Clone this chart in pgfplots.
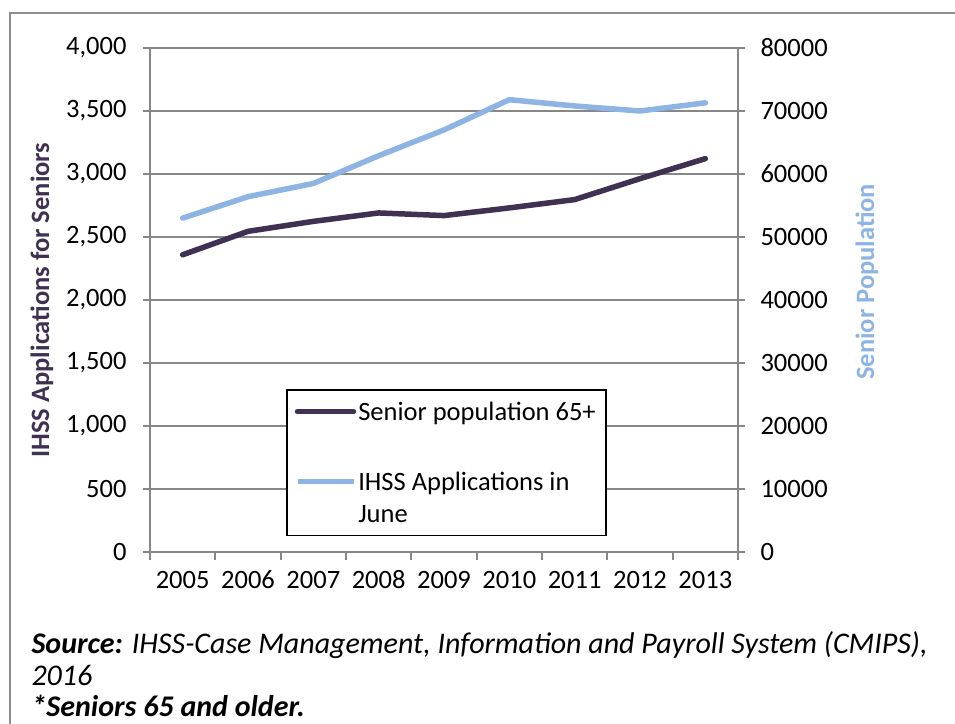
\documentclass[border=0pt]{standalone}
\usepackage{fontspec}
\setmainfont{Carlito}
\usepackage{pgfplots}
\usepackage{pgfplotstable}
\pgfplotsset{compat=1.18}

\definecolor{darkpurple}{HTML}{403152}
\definecolor{lightblue}{HTML}{8DB4E2}
\definecolor{gridgray}{HTML}{878787}

% idx = category position, seniors on left axis, apps on right axis
\pgfplotstableread{
idx year seniors apps
0 2005 2359 53000
1 2006 2545 56400
2 2007 2624 58500
3 2008 2691 62900
4 2009 2670 67000
5 2010 2731 71800
6 2011 2797 70800
7 2012 2963 70000
8 2013 3122 71300
}\datatable

\newcommand{\chartfont}{\fontsize{26.5}{32}\selectfont}

\pgfplotsset{
  /pgf/number format/assume math mode=true,
  common/.style={
    at={(150pt,-552pt)}, anchor=south west,
    scale only axis, width=588pt, height=504pt,
    xmin=-0.5, xmax=8.5,
    axis line style={gridgray, line width=1.8pt},
    tick style={gridgray, line width=1.8pt},
    tick align=outside, major tick length=7pt, minor tick length=8pt,
    tick label style={font=\chartfont},
    scaled y ticks=false,
    label style={font=\chartfont\bfseries},
  },
  lineimage/.style={legend image code/.code={\draw[##1] (0pt,0pt) -- (56pt,0pt);}},
  raisedimage/.style={legend image code/.code={\draw[##1] (0pt,16pt) -- (56pt,16pt);}},
}

\begin{document}
\begin{tikzpicture}
\useasboundingbox (0,0) rectangle (955pt,-723pt);
\draw[gridgray!95, line width=2.5pt] (10pt,-730pt) -- (10pt,-13pt) -- (965pt,-13pt);

\begin{axis}[
  common,
  ymin=0, ymax=4000,
  ytick={0,500,...,4000},
  xtick={0,...,8},
  xticklabels={2005,2006,2007,2008,2009,2010,2011,2012,2013},
  major x tick style={draw=none},
  minor xtick={-0.5,0.5,...,8.5},
  xtick pos=bottom, ytick pos=left,
  xticklabel style={text height=17pt, text depth=0pt, yshift=-9pt},
  ymajorgrids, grid style={gridgray, line width=1.8pt},
  yticklabel style={xshift=-13pt, /pgf/number format/.cd, fixed, 1000 sep={,}},
  ylabel={IHSS Applications for Seniors},
  ylabel style={at={(axis description cs:0,0.5)}, anchor=center, yshift=108pt, text=darkpurple},
  lineimage,
  legend style={at={(axis description cs:0.2313,0.3234)}, anchor=north west,
    draw=black, line width=1.5pt, inner xsep=8pt, inner ysep=10pt,
    row sep=46pt, column sep=0pt, font=\chartfont,
    cells={anchor=west, align=left, inner xsep=3pt, inner ysep=0pt}},
]
\addplot[darkpurple, line width=5.5pt, line join=round, line cap=round]
  table[x=idx, y=seniors]{\datatable};
\addlegendentry{Senior population 65+}
\addlegendimage{lightblue, line width=5.5pt, raisedimage}
\addlegendentry{IHSS Applications in\\June}
\end{axis}

\begin{axis}[
  common,
  ymin=0, ymax=80000,
  ytick={0,10000,...,80000},
  axis x line=none, axis y line*=right,
  yticklabel style={xshift=12pt, /pgf/number format/.cd, fixed, 1000 sep={}},
  ylabel={Senior Population},
  ylabel style={at={(axis description cs:1,0.536)}, anchor=center, yshift=-129pt, text=lightblue},
]
\addplot[lightblue, line width=5.5pt, line join=round, line cap=round]
  table[x=idx, y=apps]{\datatable};
\end{axis}

\node[anchor=base west, font=\fontsize{30}{36}\selectfont\itshape] at (28pt,-653pt)
  {\textbf{Source:} IHSS-Case Management, Information and Payroll System (CMIPS),};
\node[anchor=base west, font=\fontsize{30}{36}\selectfont\itshape] at (28pt,-685pt) {2016};
\node[anchor=base west, font=\fontsize{30}{36}\selectfont\itshape\bfseries] at (28pt,-716pt)
  {*Seniors 65 and older.};
\end{tikzpicture}
\end{document}
